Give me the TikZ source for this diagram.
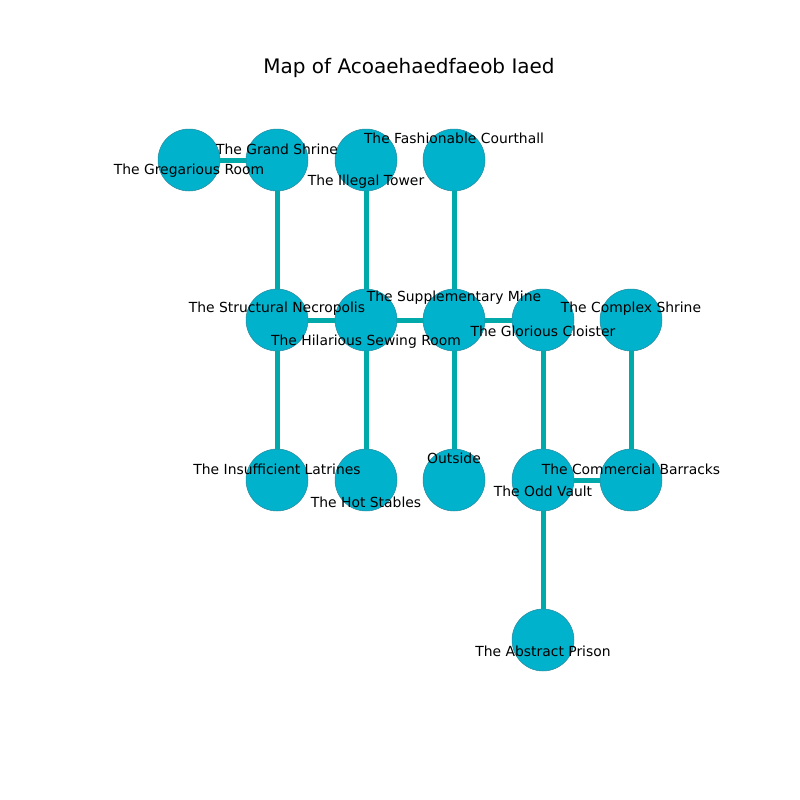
\documentclass[tikz,border=0pt]{standalone}
\usepackage{fontspec}
\setmainfont{DejaVu Sans}
\definecolor{nodefill}{RGB}{0,178,204}
\definecolor{nodeedge}{RGB}{40,140,160}
\definecolor{edgecol}{RGB}{0,170,170}
\begin{document}
\begin{tikzpicture}[x=0.72pt,y=-0.72pt,
  room/.style={circle,fill=nodefill,draw=nodeedge,line width=0.4pt,minimum size=44.6pt,inner sep=0pt},
  lbl/.style={font=\fontsize{10pt}{12pt}\selectfont,inner sep=0pt,anchor=center,yshift=-0.7pt},
  link/.style={draw=edgecol,line width=3.6pt}]
\useasboundingbox (0,0) rectangle (800,800);
\node[font=\fontsize{14.4pt}{17pt}\selectfont,yshift=-0.7pt] (title) at (409,67) {Map of Acoaehaedfaeob Iaed};
% nodes
\node[room] (greg) at (189,160) {};
\node[room] (grand) at (277,160) {};
\node[room] (illegal) at (366,160) {};
\node[room] (fash) at (454,160) {};
\node[room] (struct) at (277,320) {};
\node[room] (hilar) at (366,320) {};
\node[room] (supp) at (454,320) {};
\node[room] (glor) at (543,320) {};
\node[room] (complex) at (631,320) {};
\node[room] (insuf) at (277,480) {};
\node[room] (hot) at (366,480) {};
\node[room] (outside) at (454,480) {};
\node[room] (odd) at (543,480) {};
\node[room] (comm) at (631,480) {};
\node[room] (abstract) at (543,640) {};
% edges
\draw[link] (greg) -- (grand);
\draw[link] (grand) -- (struct);
\draw[link] (illegal) -- (hilar);
\draw[link] (fash) -- (supp);
\draw[link] (struct) -- (hilar);
\draw[link] (hilar) -- (supp);
\draw[link] (supp) -- (glor);
\draw[link] (struct) -- (insuf);
\draw[link] (hilar) -- (hot);
\draw[link] (supp) -- (outside);
\draw[link] (glor) -- (odd);
\draw[link] (complex) -- (comm);
\draw[link] (odd) -- (comm);
\draw[link] (odd) -- (abstract);
% labels
\node[lbl] (lgreg) at (189,170) {The Gregarious Room};
\node[lbl] (lgrand) at (277,148) {The Grand Shrine};
\node[lbl] (lillegal) at (366,181) {The Illegal Tower};
\node[lbl] (lfash) at (454,137) {The Fashionable Courthall};
\node[lbl] (lstruct) at (277,308) {The Structural Necropolis};
\node[lbl] (lhilar) at (366,341) {The Hilarious Sewing Room};
\node[lbl] (lsupp) at (454,297) {The Supplementary Mine};
\node[lbl] (lglor) at (543,330) {The Glorious Cloister};
\node[lbl] (lcomplex) at (631,308) {The Complex Shrine};
\node[lbl] (linsuf) at (277,468) {The Insufficient Latrines};
\node[lbl] (lhot) at (366,501) {The Hot Stables};
\node[lbl] (loutside) at (454,457) {Outside};
\node[lbl] (lodd) at (543,490) {The Odd Vault};
\node[lbl] (lcomm) at (631,468) {The Commercial Barracks};
\node[lbl] (labstract) at (543,650) {The Abstract Prison};
\end{tikzpicture}
\end{document}
